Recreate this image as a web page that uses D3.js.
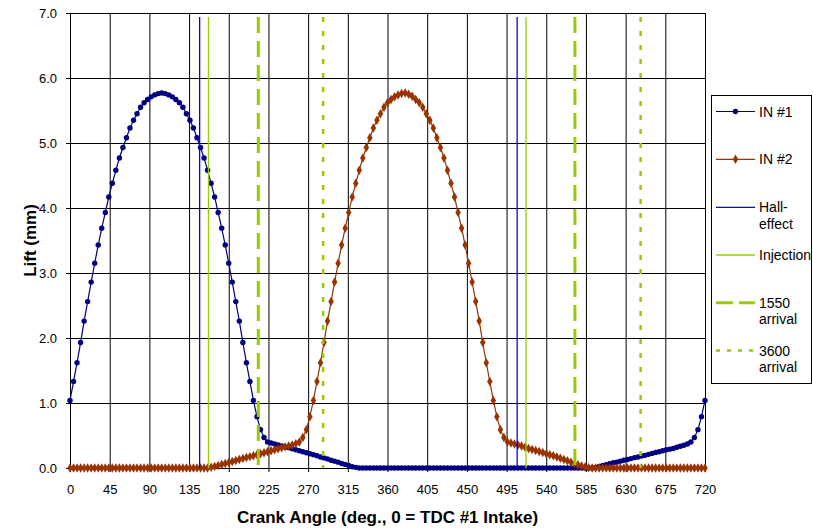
<html>
<head>
  <title>Intake valve lift vs crank angle</title>
  <script src="https://d3js.org/d3.v7.min.js"></script>
  <style>
    body{ margin:0; background:#fff; }
    text{ font-family: "Liberation Sans", Arial, sans-serif; }
  </style>
</head>
<body>
<svg id="chart" width="813" height="529"></svg>
<script>
// crank angle every 4 degrees, 0..720
const angles = d3.range(0, 721, 4);

// IN #1 lift (mm)
const in1Lift = [
  1.04, 1.33, 1.62, 1.93, 2.26, 2.56, 2.86, 3.15, 3.43, 3.69,
  3.93, 4.17, 4.38, 4.58, 4.77, 4.93, 5.08, 5.23, 5.35, 5.45,
  5.55, 5.62, 5.67, 5.71, 5.74, 5.76, 5.77, 5.76, 5.74, 5.71,
  5.67, 5.62, 5.55, 5.45, 5.35, 5.23, 5.08, 4.93, 4.77, 4.58,
  4.38, 4.17, 3.93, 3.69, 3.43, 3.15, 2.86, 2.56, 2.26, 1.93,
  1.62, 1.33, 1.04, 0.79, 0.59, 0.47, 0.40,
  0.385, 0.37, 0.355, 0.34, 0.325, 0.31, 0.295, 0.28, 0.265, 0.25,
  0.235, 0.22, 0.205, 0.19, 0.17, 0.155, 0.14, 0.12, 0.105, 0.09,
  0.07, 0.055, 0.04, 0.02, 0.01, 0,
  0, 0, 0, 0, 0, 0, 0, 0, 0, 0, 0,
  0, 0, 0, 0, 0, 0, 0, 0, 0, 0, 0,
  0, 0, 0, 0, 0, 0, 0, 0, 0, 0, 0,
  0, 0, 0, 0, 0, 0, 0, 0, 0, 0, 0,
  0, 0, 0, 0, 0, 0, 0, 0, 0, 0, 0,
  0, 0, 0, 0, 0, 0, 0, 0, 0, 0, 0,
  0.01, 0.025, 0.04, 0.05, 0.065, 0.08, 0.09, 0.105, 0.12, 0.13,
  0.145, 0.16, 0.17, 0.185, 0.195, 0.21, 0.225, 0.24, 0.25, 0.265,
  0.28, 0.29, 0.30, 0.32, 0.335, 0.35, 0.37,
  0.40, 0.47, 0.59, 0.79, 1.04
];

// IN #2 lift (mm)
const in2Lift = [
  0, 0, 0, 0, 0, 0, 0, 0, 0, 0, 0, 0, 0,
  0, 0, 0, 0, 0, 0, 0, 0, 0, 0, 0, 0, 0,
  0, 0, 0, 0, 0, 0, 0, 0, 0, 0, 0, 0, 0,
  0, 0.01, 0.025, 0.04, 0.055, 0.07, 0.085, 0.10, 0.115, 0.13,
  0.145, 0.16, 0.175, 0.19, 0.205, 0.22, 0.235, 0.25, 0.265, 0.28,
  0.295, 0.31, 0.325, 0.34, 0.355, 0.375,
  0.40, 0.47, 0.59, 0.79, 1.04, 1.33, 1.62, 1.93, 2.26, 2.56,
  2.86, 3.15, 3.43, 3.69, 3.93, 4.17, 4.38, 4.58, 4.77, 4.93,
  5.08, 5.23, 5.35, 5.45, 5.55, 5.62, 5.67, 5.71, 5.74, 5.76,
  5.77, 5.75, 5.72, 5.67, 5.62, 5.55, 5.45, 5.35, 5.23, 5.08,
  4.93, 4.77, 4.58, 4.38, 4.17, 3.93, 3.69, 3.43, 3.15, 2.86,
  2.56, 2.26, 1.93, 1.62, 1.33, 1.04, 0.79, 0.59, 0.47, 0.40,
  0.385, 0.37, 0.355, 0.34, 0.32, 0.30, 0.285, 0.27, 0.255, 0.24,
  0.22, 0.205, 0.19, 0.17, 0.15, 0.13, 0.11, 0.09, 0.07, 0.05,
  0.03, 0.015, 0.005,
  0, 0, 0, 0, 0, 0, 0, 0, 0, 0, 0,
  0, 0, 0, 0, 0, 0, 0, 0, 0, 0, 0,
  0, 0, 0, 0, 0, 0, 0, 0, 0, 0, 0
];

// event markers (crank angle, deg)
const hallAngles = [147, 507];
const injectionAngles = [157, 517];
const arrival1550Angles = [213.5, 572.5];
const arrival3600Angles = [287, 647];

const xTicks = [0, 45, 90, 135, 180, 225, 270, 315, 360, 405, 450, 495, 540, 585, 630, 675, 720];
const yTicks = [0, 1, 2, 3, 4, 5, 6, 7];

const navy = "#000080", rust = "#993300", blue = "#0000ff", lime = "#99cc00";

let svg = d3.select("#chart");
let plot = {left: 70, right: 705, top: 13, bottom: 468};

const xScale = d3.scaleLinear().domain([0, 720]).range([plot.left, plot.right]);
const yScale = d3.scaleLinear().domain([0, 7]).range([plot.bottom, plot.top]);

// gridlines
svg.append("g")
  .attr("transform", `translate(0,${plot.bottom})`)
  .call(d3.axisBottom(xScale).tickValues(xTicks).tickSize(-(plot.bottom - plot.top)).tickFormat(""))
  .call(g => g.select(".domain").remove())
  .selectAll("line").attr("stroke", "#000");
svg.append("g")
  .attr("transform", `translate(${plot.left},0)`)
  .call(d3.axisLeft(yScale).tickValues(yTicks).tickSize(-(plot.right - plot.left)).tickFormat(""))
  .call(g => g.select(".domain").remove())
  .selectAll("line").attr("stroke", "#000");

// axes
let xAxis = svg.append("g")
  .attr("transform", `translate(0,${plot.bottom})`)
  .call(d3.axisBottom(xScale).tickValues(xTicks).tickSize(4).tickPadding(13).tickSizeOuter(0));
let yAxis = svg.append("g")
  .attr("transform", `translate(${plot.left},0)`)
  .call(d3.axisLeft(yScale).tickValues(yTicks).tickSize(4).tickPadding(9).tickSizeOuter(0).tickFormat(d3.format(".1f")));
[xAxis, yAxis].forEach(a => {
  a.selectAll("text").attr("font-family", "Liberation Sans, Arial, sans-serif").attr("font-size", 13).attr("fill", "#000");
  a.selectAll("line").attr("stroke", "#000");
  a.select(".domain").attr("stroke", "#000");
});

// series
const pts1 = angles.map((a, i) => [a, in1Lift[i]]);
const pts2 = angles.map((a, i) => [a, in2Lift[i]]);
const line = d3.line().x(d => xScale(d[0])).y(d => yScale(d[1]));

svg.append("path").datum(pts1).attr("d", line)
  .attr("fill", "none").attr("stroke", navy).attr("stroke-width", 1.2);
svg.append("g").selectAll("circle").data(pts1).join("circle")
  .attr("cx", d => xScale(d[0])).attr("cy", d => yScale(d[1]))
  .attr("r", 2.7).attr("fill", navy);

const diamond = d3.symbol().type(d3.symbolDiamond).size(26);
svg.append("path").datum(pts2).attr("d", line)
  .attr("fill", "none").attr("stroke", rust).attr("stroke-width", 1.2);
svg.append("g").selectAll("path").data(pts2).join("path")
  .attr("d", diamond)
  .attr("transform", d => `translate(${xScale(d[0])},${yScale(d[1])})`)
  .attr("fill", rust);

// vertical event lines
function vlines(list, color, width, dash) {
  svg.append("g").selectAll("line").data(list).join("line")
    .attr("x1", d => xScale(d)).attr("x2", d => xScale(d))
    .attr("y1", yScale(7) + 4).attr("y2", yScale(0))
    .attr("stroke", color).attr("stroke-width", width)
    .attr("stroke-dasharray", dash);
}
vlines(hallAngles, blue, 1.3, null);
vlines(injectionAngles, lime, 1.3, null);
vlines(arrival1550Angles, lime, 3, "16,8");
vlines(arrival3600Angles, lime, 2.5, "5,9");

// axis titles
svg.append("text")
  .attr("x", (plot.left + plot.right) / 2).attr("y", 523)
  .attr("text-anchor", "middle").attr("font-size", 17).attr("font-weight", "bold")
  .text("Crank Angle (deg., 0 = TDC #1 Intake)");
svg.append("text")
  .attr("transform", `translate(36,${(plot.top + plot.bottom) / 2}) rotate(-90)`)
  .attr("text-anchor", "middle").attr("font-size", 17).attr("font-weight", "bold")
  .text("Lift (mm)");

// legend
let legend = svg.append("g");
legend.append("rect")
  .attr("x", 711.5).attr("y", 95.5).attr("width", 100).attr("height", 288)
  .attr("fill", "#fff").attr("stroke", "#000");
const legendItems = [
  {lines: ["IN #1"], y: 111.5, color: navy, width: 1.2, dash: null, mark: "circle"},
  {lines: ["IN #2"], y: 159.3, color: rust, width: 1.2, dash: null, mark: "diamond"},
  {lines: ["Hall-", "effect"], y: 207.3, color: blue, width: 1.3, dash: null},
  {lines: ["Injection"], y: 255, color: lime, width: 1.3, dash: null},
  {lines: ["1550", "arrival"], y: 302.7, color: lime, width: 3, dash: "17,6"},
  {lines: ["3600", "arrival"], y: 350.5, color: lime, width: 2.5, dash: "4,7"}
];
legendItems.forEach(it => {
  legend.append("line")
    .attr("x1", 716).attr("x2", 755).attr("y1", it.y).attr("y2", it.y)
    .attr("stroke", it.color).attr("stroke-width", it.width)
    .attr("stroke-dasharray", it.dash);
  if (it.mark === "circle") {
    legend.append("circle").attr("cx", 735.5).attr("cy", it.y).attr("r", 2.7).attr("fill", it.color);
  } else if (it.mark === "diamond") {
    legend.append("path").attr("d", diamond).attr("transform", `translate(735.5,${it.y})`).attr("fill", it.color);
  }
  let t = legend.append("text").attr("x", 759).attr("y", it.y + 5).attr("font-size", 14);
  it.lines.forEach((s, k) => {
    t.append("tspan").attr("x", 759).attr("dy", k === 0 ? 0 : 16.5).text(s);
  });
});
</script>
</body>
</html>
